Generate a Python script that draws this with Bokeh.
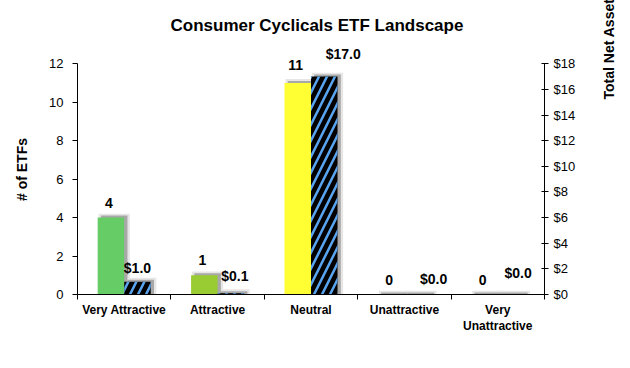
import math
from bokeh.plotting import figure
from bokeh.models import (ColumnDataSource, Range1d, LinearAxis, FixedTicker,
                          NumeralTickFormatter, LabelSet, Legend, LegendItem)
from bokeh.core.properties import value
from bokeh.embed import file_html
from bokeh.resources import INLINE

# ---- data ----
categories = ["Very Attractive", "Attractive", "Neutral", "Unattractive", "Very\nUnattractive"]
etf_counts = [4, 1, 11, 0, 0]
net_assets = [1.0, 0.1, 17.0, 0.0, 0.0]
count_labels = ["4", "1", "11", "0", "0"]
asset_labels = ["$1.0", "$0.1", "$17.0", "$0.0", "$0.0"]
left_ticks = [0, 2, 4, 6, 8, 10, 12]
right_ticks = [0, 2, 4, 6, 8, 10, 12, 14, 16, 18]
bar_colors = ["#66CC66", "#99CC33", "#FFFF33", "#FF9933", "#FF3333"]

# ---- styling / layout ----
FONT = "Liberation Sans"
BW = 0.284          # bar width (category units)
OFF = 0.142         # dodge offset
count_label_dy = [10, 10, 13, 10, 10]    # px gap above bars
asset_label_dx = [0, 4, 19, 16, 7]       # px nudges of $ labels
asset_label_dy = [9, 12, 18, 11, 17]
RIGHT_TITLE = "Total Net Assets ($bn)"
PAD = "\u00a0" * 18

n = len(categories)
centers = [i + 0.5 for i in range(n)]
cx = [c - OFF for c in centers]
ax_ = [c + OFF for c in centers]

src_c = ColumnDataSource(dict(x=cx, top=etf_counts, color=bar_colors,
                              sx=[v + 0.035 for v in cx],
                              stop=[v + 0.104 for v in etf_counts],
                              htop=[v + 0.2 for v in etf_counts],
                              label=count_labels, dy=count_label_dy))
src_a = ColumnDataSource(dict(x=ax_, top=net_assets,
                              sx=[v + 0.035 for v in ax_],
                              stop=[v + 0.156 for v in net_assets],
                              htop=[v + 0.3 for v in net_assets],
                              label=asset_labels, dx=asset_label_dx, dy=asset_label_dy))

p = figure(frame_width=467, frame_height=250,
           x_range=Range1d(0, n), y_range=Range1d(0, 13),
           output_backend="svg", toolbar_location=None,
           min_border_left=77, min_border_right=86,
           min_border_top=44, min_border_bottom=70,
           title="Consumer Cyclicals ETF Landscape")
p.outline_line_color = None
p.grid.visible = False
p.extra_y_ranges = {"assets": Range1d(0, 19.5)}

p.title.align = "left"
p.title.offset = 93
p.title.standoff = 20
p.title.text_font = FONT
p.title.text_font_size = "17px"
p.title.text_font_style = "bold"
p.title.text_color = "black"

# shadows / halos
p.vbar(x="sx", top="htop", width=BW + 0.05, source=src_c, fill_color="#E6E6E6", line_color=None)
p.vbar(x="sx", top="htop", width=BW + 0.05, source=src_a, fill_color="#E6E6E6", line_color=None,
       y_range_name="assets")
p.vbar(x="sx", top="stop", width=BW, source=src_c, fill_color="#A8A8A8", line_color=None)
p.vbar(x="sx", top="stop", width=BW, source=src_a, fill_color="#A8A8A8", line_color=None,
       y_range_name="assets")

# main bars
p.vbar(x="x", top="top", width=BW, source=src_c, fill_color="color", line_color=None)
p.vbar(x="x", top="top", width=BW, source=src_a, fill_color="black", line_color=None,
       hatch_pattern="/", hatch_color="#5AA5F0", hatch_weight=2.5, hatch_scale=16,
       y_range_name="assets")

# data labels
p.add_layout(LabelSet(x="x", y="top", text="label", source=src_c, y_offset="dy", x_offset=-2,
                      text_align="center", text_baseline="alphabetic",
                      text_font=value(FONT), text_font_size="14px", text_font_style="bold",
                      text_color="black"))
p.add_layout(LabelSet(x="x", y="top", text="label", source=src_a, y_offset="dy", x_offset="dx",
                      text_align="center", text_baseline="alphabetic", y_range_name="assets",
                      text_font=value(FONT), text_font_size="14px", text_font_style="bold",
                      text_color="black"))

# axes
xa = p.xaxis[0]
xa.ticker = FixedTicker(ticks=centers, minor_ticks=list(range(n + 1)))
xa.major_label_overrides = {c: lab for c, lab in zip(centers, categories)}
xa.major_tick_in = 0
xa.major_tick_out = 0
xa.minor_tick_in = 0
xa.minor_tick_out = 5
xa.major_label_standoff = 3
xa.axis_label_standoff = 0
xa.major_label_text_font = FONT
xa.major_label_text_font_size = "12px"
xa.major_label_text_font_style = "bold"
xa.major_label_text_color = "black"
xa.axis_line_color = "black"
xa.minor_tick_line_color = "black"

ya = p.yaxis[0]
ya.ticker = FixedTicker(ticks=left_ticks, minor_ticks=[])
ya.bounds = (0, 12)
ya.major_tick_in = 0
ya.major_tick_out = 5
ya.major_label_standoff = 9
ya.major_label_text_font = FONT
ya.major_label_text_font_size = "13px"
ya.major_label_text_color = "black"
ya.axis_line_color = "black"
ya.major_tick_line_color = "black"
ya.axis_label = "# of ETFs"
ya.axis_label_standoff = 16
ya.axis_label_text_font = FONT
ya.axis_label_text_font_size = "14px"
ya.axis_label_text_font_style = "bold"
ya.axis_label_text_color = "black"

ra = LinearAxis(y_range_name="assets", ticker=FixedTicker(ticks=right_ticks, minor_ticks=[]),
                formatter=NumeralTickFormatter(format="$0"), bounds=(0, 18))
ra.major_tick_in = 3
ra.major_tick_out = 4
ra.major_label_standoff = 5
ra.major_label_text_font = FONT
ra.major_label_text_font_size = "13px"
ra.major_label_text_color = "black"
ra.axis_line_color = "black"
ra.major_tick_line_color = "black"
# read bottom-to-top as in the original; no-break spaces lift it above centre
ra.axis_label_orientation = math.pi / 2
ra.axis_label = PAD + RIGHT_TITLE
ra.axis_label_text_align = "center"
ra.axis_label_text_baseline = "middle"
ra.axis_label_standoff = 31
ra.axis_label_text_font = FONT
ra.axis_label_text_font_size = "14px"
ra.axis_label_text_font_style = "bold"
ra.axis_label_text_color = "black"
p.add_layout(ra, "right")

# legend
empty = ColumnDataSource(dict(x=[], top=[]))
r1 = p.vbar(x="x", top="top", width=0.1, source=empty, fill_color="#66AAEE", line_color=None)
r2 = p.vbar(x="x", top="top", width=0.1, source=empty, fill_color="black", line_color=None,
            hatch_pattern="/", hatch_color="#5AA5F0", hatch_weight=2, hatch_scale=10)
leg = Legend(items=[LegendItem(label="# of ETFs", renderers=[r1]),
                    LegendItem(label="Total Net Assets", renderers=[r2])],
             orientation="horizontal", location="center",
             glyph_width=7, glyph_height=7, label_standoff=3, spacing=60,
             padding=0, margin=10, border_line_color=None, background_fill_alpha=0,
             label_text_font=FONT, label_text_font_size="14px", label_text_font_style="bold",
             label_text_color="black", label_height=16)
p.add_layout(leg, "below")

open("out.html", "w").write(file_html(p, INLINE))
